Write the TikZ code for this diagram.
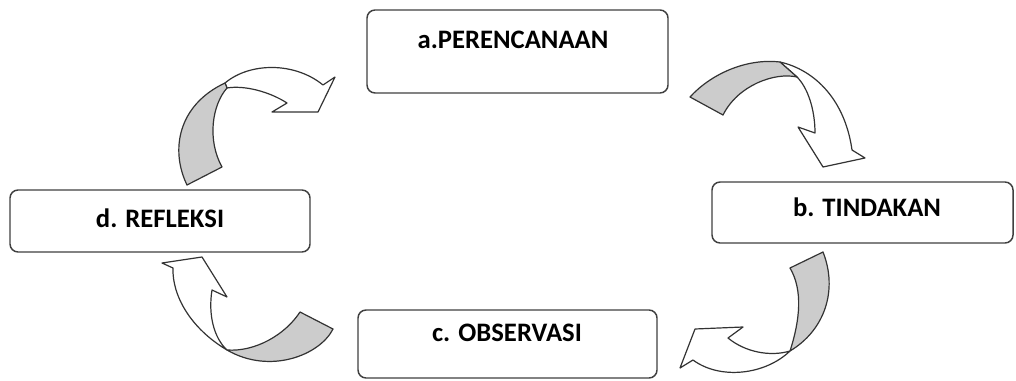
\documentclass[tikz,border=0pt]{standalone}
\usepackage{fontspec}
\setmainfont{Carlito}
\usepackage{tikz}

\begin{document}
\begin{tikzpicture}[x=0.75pt, y=-0.75pt,
    stage/.style={draw=black!75, line width=1.1pt, rounded corners=6pt, fill=white},
    stagetxt/.style={inner sep=0pt, font=\fontsize{20}{24}\selectfont\bfseries},
    twistpart/.style={draw=black!80, line width=0.9pt, fill=black!20, line join=round},
    curlpart/.style={draw=black!80, line width=0.9pt, fill=white, line join=round}]
    \useasboundingbox (0,0) rectangle (1016,381);
    % Stages
    \node[stage, minimum width=225.75pt, minimum height=62.25pt] (plan) at (517.5,51.5) {};
    \node[stage, minimum width=225.75pt, minimum height=45.75pt] (act) at (862.5,212.5) {};
    \node[stage, minimum width=224.25pt, minimum height=51pt] (obs) at (507.5,344) {};
    \node[stage, minimum width=225pt, minimum height=46.5pt] (refl) at (160,221) {};
    % Labels
    \node[stagetxt] (plantxt) at (513,40) {a.PERENCANAAN};
    \node[stagetxt] (acttxt) at (867,207) {b. TINDAKAN};
    \node[stagetxt] (obstxt) at (507,333) {c. OBSERVASI};
    \node[stagetxt] (refltxt) at (160,218) {d. REFLEKSI};
    % --- a to b ---
    \draw[curlpart] (780,62) .. controls (815,70) and (845,100) .. (852,150)
      -- (865,158) -- (823,167) -- (798,127) -- (815,133)
      .. controls (815,110) and (808,88) .. (797,77) -- cycle;
    \draw[twistpart] (690,97) .. controls (710,75) and (745,58) .. (780,62)
      -- (797,77) .. controls (775,72) and (738,85) .. (723,115) -- cycle;
    % --- b to c ---
    \draw[curlpart] (790,351) .. controls (770,357) and (745,352) .. (728,338)
      -- (743,327) -- (695,329) -- (680,368) -- (693,360)
      .. controls (720,380) and (765,375) .. (790,351) -- cycle;
    \draw[twistpart] (823,252) .. controls (838,290) and (825,330) .. (790,351)
      .. controls (800,320) and (803,290) .. (790,268) -- cycle;
    % --- c to d ---
    \draw[curlpart] (227,350) .. controls (190,328) and (172,295) .. (173,268)
      -- (162,263) -- (202,257) -- (227,297) -- (212,290)
      .. controls (208,315) and (214,338) .. (227,350) -- cycle;
    \draw[twistpart] (300,312) -- (333,329) .. controls (320,355) and (270,375) .. (227,350)
      .. controls (255,352) and (285,335) .. (300,312) -- cycle;
    % --- d to a ---
    \draw[curlpart] (225,83) .. controls (250,62) and (295,62) .. (323,85)
      -- (335,77) -- (318,112) -- (272,112) -- (287,103)
      .. controls (270,92) and (245,85) .. (227,88) -- cycle;
    \draw[twistpart] (187,185) .. controls (170,150) and (178,105) .. (225,83)
      -- (227,88) .. controls (212,105) and (207,140) .. (222,167) -- cycle;
\end{tikzpicture}
\end{document}
